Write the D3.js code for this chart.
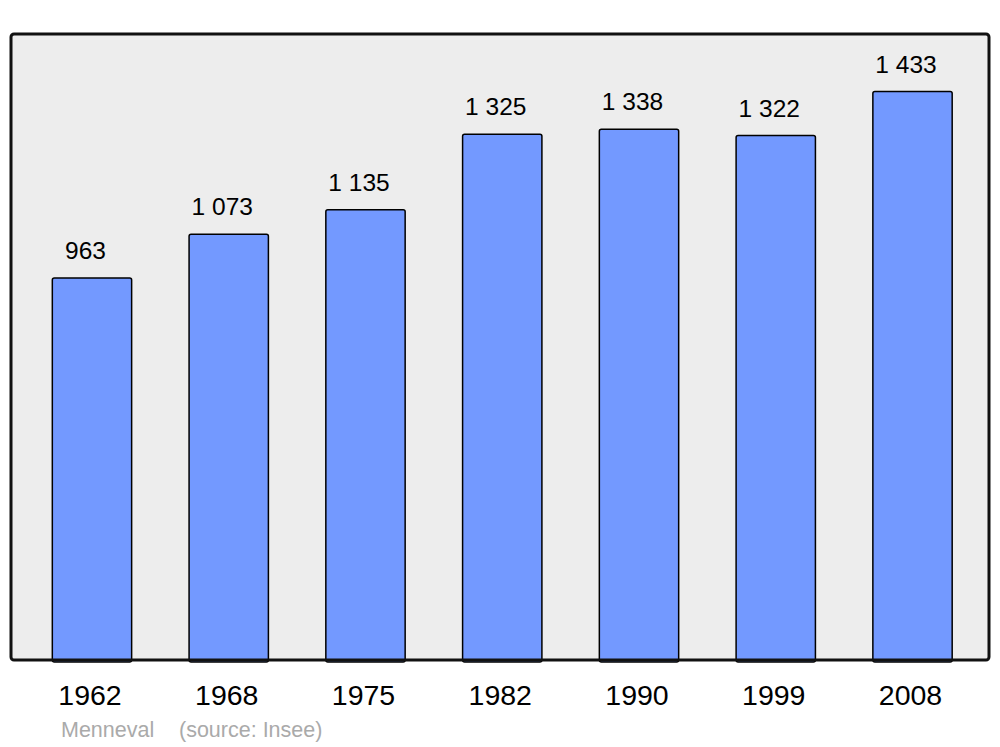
<html>
<head>
	<title>Menneval population</title>
	<script src="https://d3js.org/d3.v7.min.js"></script>
	<style type="text/css">
		body {
			margin: 0;
			padding: 0;
			background: #fff;
		}
		text { font-family: "Liberation Sans", Arial, sans-serif; }
	</style>
</head>
<body>

<div id="chart"></div>

<script>

var years = ["1962", "1968", "1975", "1982", "1990", "1999", "2008"];
var population = [963, 1073, 1135, 1325, 1338, 1322, 1433];
var valueLabels = ["963", "1 073", "1 135", "1 325", "1 338", "1 322", "1 433"];

function drawChart() {
var ww = 1000,
	wh = 747;

var svg = d3.select("#chart").append("svg")
	.attr("width", ww)
	.attr("height", wh);

// plot frame
var fLeft = 11, fRight = 989, fTop = 34, fBottom = 660;

svg.append("rect")
	.attr("x", fLeft)
	.attr("y", fTop)
	.attr("width", fRight - fLeft)
	.attr("height", fBottom - fTop)
	.attr("rx", 3)
	.attr("fill", "#ededed");

var x = d3.scaleBand()
	.domain(years)
	.range([23.6, 980.9])
	.paddingInner(0.42)
	.paddingOuter(0.21);

var y = d3.scaleLinear()
	.domain([0, 1578])
	.range([fBottom, fTop]);

var data = years.map(function(d, i) {
	return { year: d, value: population[i], label: valueLabels[i] };
});

svg.selectAll("rect.bar")
	.data(data)
	.enter().append("rect")
	.attr("class", "bar")
	.attr("x", function(d) { return x(d.year); })
	.attr("y", function(d) { return y(d.value); })
	.attr("width", x.bandwidth())
	.attr("height", function(d) { return fBottom - y(d.value) + 2; })
	.attr("rx", 2)
	.attr("fill", "#7399ff")
	.attr("stroke", "#000")
	.attr("stroke-width", 1.5);

svg.selectAll("text.value")
	.data(data)
	.enter().append("text")
	.attr("class", "value")
	.attr("x", function(d) { return x(d.year) + x.bandwidth() / 2 - 6.5; })
	.attr("y", function(d) { return y(d.value) - 19; })
	.attr("text-anchor", "middle")
	.attr("font-size", "24.5px")
	.attr("fill", "#000")
	.text(function(d) { return d.label; });

// frame border on top of the bars
svg.append("rect")
	.attr("x", fLeft)
	.attr("y", fTop)
	.attr("width", fRight - fLeft)
	.attr("height", fBottom - fTop)
	.attr("rx", 3)
	.attr("fill", "none")
	.attr("stroke", "#111")
	.attr("stroke-width", 3);

var xAxis = svg.append("g")
	.attr("transform", "translate(0," + fBottom + ")")
	.call(d3.axisBottom(x).tickSize(0).tickPadding(0));

xAxis.select(".domain").remove();
xAxis.selectAll("text")
	.attr("dy", null)
	.attr("y", 45)
	.attr("x", -2)
	.attr("font-size", "28.5px")
	.attr("font-family", "\"Liberation Sans\", Arial, sans-serif")
	.attr("fill", "#000");

svg.append("text")
	.attr("x", 61)
	.attr("y", 737)
	.attr("font-size", "21.5px")
	.attr("fill", "#aaaaaa")
	.text("Menneval");

svg.append("text")
	.attr("x", 179)
	.attr("y", 737)
	.attr("font-size", "21.5px")
	.attr("fill", "#aaaaaa")
	.text("(source: Insee)");
}

drawChart();

</script>
</body>
</html>
